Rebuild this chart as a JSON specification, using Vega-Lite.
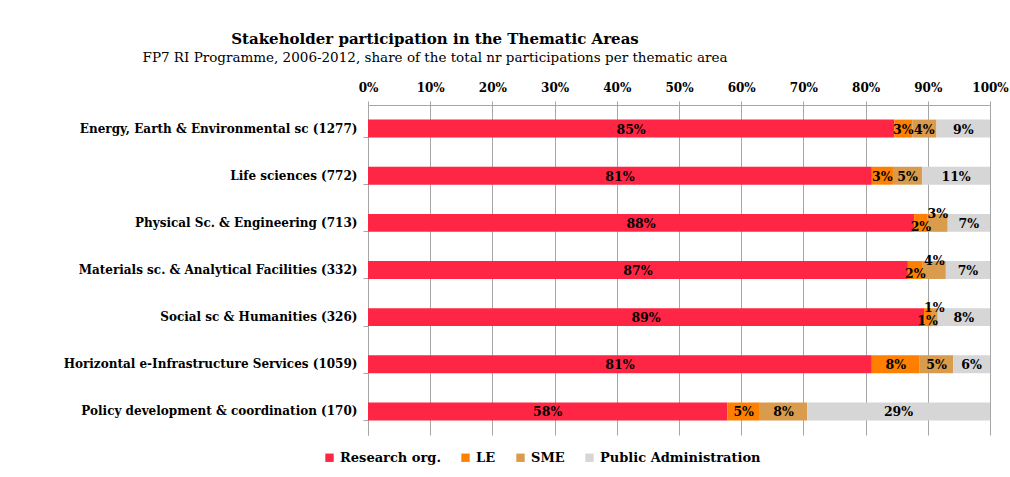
{
  "$schema": "https://vega.github.io/schema/vega-lite/v6.json",
  "width": 622,
  "height": 330,
  "autosize": {"type": "none"},
  "padding": {"left": 368, "top": 105, "right": 20, "bottom": 42},
  "background": "white",
  "config": {
    "font": "DejaVu Serif",
    "view": {"stroke": null}
  },
  "title": {
    "text": "Stakeholder participation in the Thematic Areas",
    "subtitle": "FP7 RI Programme, 2006-2012, share of the total nr participations per thematic area",
    "anchor": "middle",
    "frame": "group",
    "dx": -244,
    "offset": 17,
    "font": "DejaVu Serif",
    "fontSize": 15,
    "fontWeight": "bold",
    "color": "black",
    "subtitleFont": "DejaVu Serif",
    "subtitleFontSize": 13.5,
    "subtitleColor": "black",
    "subtitlePadding": 4
  },
  "data": {
    "values": [
      {"area": "Energy, Earth & Environmental sc (1277)", "stakeholder": "Research org.", "value": 84.6},
      {"area": "Energy, Earth & Environmental sc (1277)", "stakeholder": "LE", "value": 2.9},
      {"area": "Energy, Earth & Environmental sc (1277)", "stakeholder": "SME", "value": 3.9},
      {"area": "Energy, Earth & Environmental sc (1277)", "stakeholder": "Public Administration", "value": 8.6},
      {"area": "Life sciences (772)", "stakeholder": "Research org.", "value": 81.0},
      {"area": "Life sciences (772)", "stakeholder": "LE", "value": 3.4},
      {"area": "Life sciences (772)", "stakeholder": "SME", "value": 4.7},
      {"area": "Life sciences (772)", "stakeholder": "Public Administration", "value": 10.9},
      {"area": "Physical Sc. & Engineering (713)", "stakeholder": "Research org.", "value": 87.8},
      {"area": "Physical Sc. & Engineering (713)", "stakeholder": "LE", "value": 2.2},
      {"area": "Physical Sc. & Engineering (713)", "stakeholder": "SME", "value": 3.2},
      {"area": "Physical Sc. & Engineering (713)", "stakeholder": "Public Administration", "value": 6.8},
      {"area": "Materials sc. & Analytical Facilities (332)", "stakeholder": "Research org.", "value": 86.8},
      {"area": "Materials sc. & Analytical Facilities (332)", "stakeholder": "LE", "value": 2.4},
      {"area": "Materials sc. & Analytical Facilities (332)", "stakeholder": "SME", "value": 3.7},
      {"area": "Materials sc. & Analytical Facilities (332)", "stakeholder": "Public Administration", "value": 7.1},
      {"area": "Social sc & Humanities (326)", "stakeholder": "Research org.", "value": 89.4},
      {"area": "Social sc & Humanities (326)", "stakeholder": "LE", "value": 1.1},
      {"area": "Social sc & Humanities (326)", "stakeholder": "SME", "value": 1.1},
      {"area": "Social sc & Humanities (326)", "stakeholder": "Public Administration", "value": 8.4},
      {"area": "Horizontal e-Infrastructure Services (1059)", "stakeholder": "Research org.", "value": 81.0},
      {"area": "Horizontal e-Infrastructure Services (1059)", "stakeholder": "LE", "value": 7.7},
      {"area": "Horizontal e-Infrastructure Services (1059)", "stakeholder": "SME", "value": 5.4},
      {"area": "Horizontal e-Infrastructure Services (1059)", "stakeholder": "Public Administration", "value": 5.9},
      {"area": "Policy development & coordination (170)", "stakeholder": "Research org.", "value": 57.8},
      {"area": "Policy development & coordination (170)", "stakeholder": "LE", "value": 5.2},
      {"area": "Policy development & coordination (170)", "stakeholder": "SME", "value": 7.6},
      {"area": "Policy development & coordination (170)", "stakeholder": "Public Administration", "value": 29.4}
    ]
  },
  "transform": [
    {"calculate": "indexof(['Research org.','LE','SME','Public Administration'], datum.stakeholder)", "as": "ord"},
    {"stack": "value", "groupby": ["area"], "sort": [{"field": "ord", "order": "ascending"}], "as": ["v0", "v1"]},
    {"calculate": "(datum.v0 + datum.v1) / 2", "as": "mid"},
    {"calculate": "format(datum.value, '.0f') + '%'", "as": "label"},
    {"calculate": "indexof(['Physical Sc. & Engineering (713)','Materials sc. & Analytical Facilities (332)','Social sc & Humanities (326)'], datum.area) >= 0 && (datum.stakeholder == 'SME' || datum.stakeholder == 'LE')", "as": "crowded"}
  ],
  "encoding": {
    "y": {
      "field": "area",
      "type": "nominal",
      "sort": [
        "Energy, Earth & Environmental sc (1277)",
        "Life sciences (772)",
        "Physical Sc. & Engineering (713)",
        "Materials sc. & Analytical Facilities (332)",
        "Social sc & Humanities (326)",
        "Horizontal e-Infrastructure Services (1059)",
        "Policy development & coordination (170)"
      ],
      "scale": {"paddingInner": 0.62, "paddingOuter": 0.31},
      "axis": {
        "title": null,
        "bandPosition": 1,
        "domainColor": "#A6A6A6",
        "tickColor": "#A6A6A6",
        "tickSize": 5,
        "labelPadding": 6,
        "labelFont": "DejaVu Serif",
        "labelFontWeight": "bold",
        "labelFontSize": 12,
        "labelColor": "black",
        "labelLimit": 400
      }
    }
  },
  "layer": [
    {
      "mark": {"type": "bar"},
      "encoding": {
        "x": {
          "field": "v0",
          "type": "quantitative",
          "scale": {"domain": [0, 100], "nice": false},
          "axis": {
            "orient": "top",
            "title": null,
            "values": [0, 10, 20, 30, 40, 50, 60, 70, 80, 90, 100],
            "labelExpr": "datum.value + '%'",
            "grid": true,
            "gridColor": "#A6A6A6",
            "gridOpacity": 1,
            "domainColor": "#A6A6A6",
            "tickColor": "#A6A6A6",
            "tickSize": 4,
            "labelPadding": 7,
            "labelFont": "DejaVu Serif",
            "labelFontWeight": "bold",
            "labelFontSize": 12,
            "labelColor": "black",
            "labelFlush": false
          }
        },
        "x2": {"field": "v1"},
        "color": {
          "field": "stakeholder",
          "type": "nominal",
          "scale": {
            "domain": ["Research org.", "LE", "SME", "Public Administration"],
            "range": ["#FF2645", "#FF8000", "#D99B4C", "#D6D6D6"]
          },
          "legend": {
            "title": null,
            "orient": "none",
            "direction": "horizontal",
            "legendX": -45,
            "legendY": 346,
            "symbolType": "square",
            "symbolSize": 70,
            "symbolStrokeWidth": 0,
            "labelFont": "DejaVu Serif",
            "labelFontWeight": "bold",
            "labelFontSize": 13,
            "labelColor": "black",
            "columnPadding": 18,
            "labelOffset": 4,
            "labelLimit": 300
          }
        }
      }
    },
    {
      "transform": [{"filter": "!datum.crowded"}],
      "mark": {"type": "text", "font": "DejaVu Serif", "fontWeight": "bold", "fontSize": 12.5, "color": "black", "baseline": "middle", "dy": 1},
      "encoding": {
        "x": {"field": "mid", "type": "quantitative"},
        "text": {"field": "label"}
      }
    },
    {
      "transform": [{"filter": "datum.crowded && datum.stakeholder == 'LE'"}],
      "mark": {"type": "text", "font": "DejaVu Serif", "fontWeight": "bold", "fontSize": 12.5, "color": "black", "baseline": "middle", "dy": 4},
      "encoding": {
        "x": {"field": "mid", "type": "quantitative"},
        "text": {"field": "label"}
      }
    },
    {
      "transform": [{"filter": "datum.crowded && datum.stakeholder == 'SME'"}],
      "mark": {"type": "text", "font": "DejaVu Serif", "fontWeight": "bold", "fontSize": 12.5, "color": "black", "baseline": "middle", "dy": -9},
      "encoding": {
        "x": {"field": "mid", "type": "quantitative"},
        "text": {"field": "label"}
      }
    }
  ]
}
